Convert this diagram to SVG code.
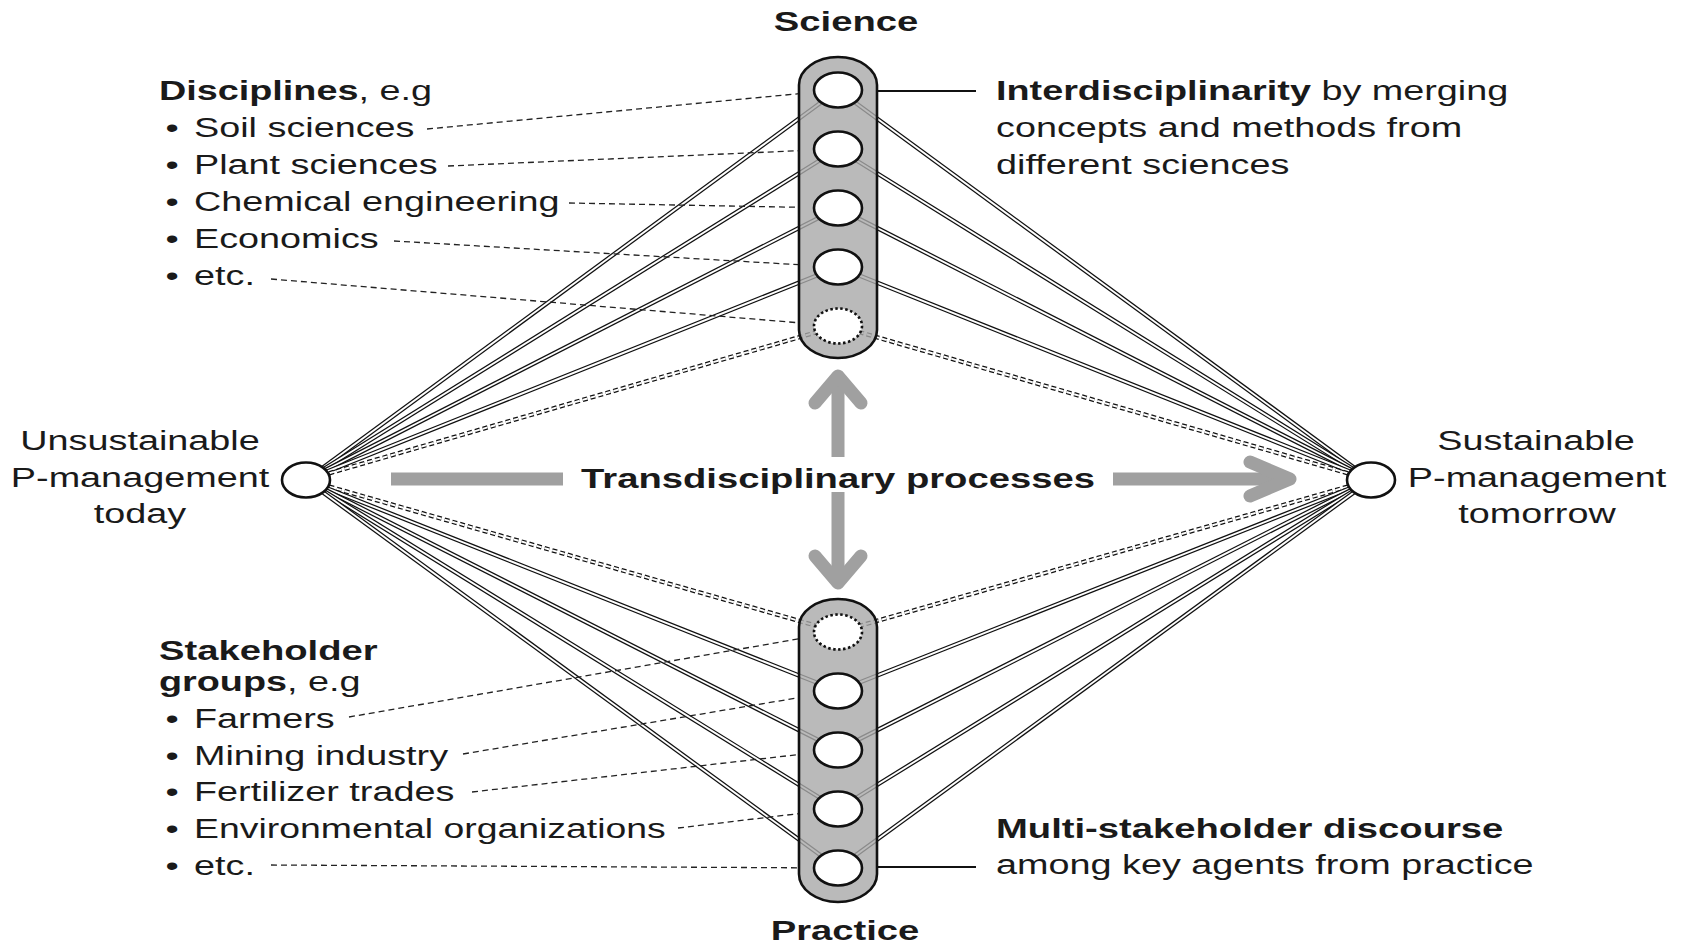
<svg xmlns="http://www.w3.org/2000/svg" width="1682" height="943" viewBox="0 0 1682 943">
<style>
text{font-family:"Liberation Sans",Arial,sans-serif;font-size:27px;fill:#1a1a1a}
.b{font-weight:bold}
.m{text-anchor:middle}
.dl{stroke:#111;stroke-width:4.4;fill:none}
.dw{stroke:#fff;stroke-width:1.9;fill:none}
.dd{stroke-dasharray:5 3}
.dash{stroke:#222;stroke-width:1.3;stroke-dasharray:6 4;fill:none}
.solid{stroke:#111;stroke-width:2.2;fill:none}
.node{fill:#fff;stroke:#111;stroke-width:2.6}
.dot{fill:#fff;stroke:#111;stroke-width:2.6;stroke-dasharray:2.5 2.5}
.pill{fill:#a9a9a9;fill-opacity:0.8;stroke:#111;stroke-width:2.6}
.arr{stroke:#a0a0a0;stroke-width:13;fill:none}
.head{stroke:#a0a0a0;stroke-width:13;fill:none;stroke-linecap:round;stroke-linejoin:round}
</style>
<defs>
<path id="a1" d="M306 480L838 90"/>
<path id="a2" d="M306 480L838 149"/>
<path id="a3" d="M306 480L838 208"/>
<path id="a4" d="M306 480L838 267"/>
<path id="a5" d="M306 480L838 326"/>
<path id="b1" d="M306 480L838 632"/>
<path id="b2" d="M306 480L838 691"/>
<path id="b3" d="M306 480L838 750"/>
<path id="b4" d="M306 480L838 809"/>
<path id="b5" d="M306 480L838 868"/>
<path id="c1" d="M1371 480L838 90"/>
<path id="c2" d="M1371 480L838 149"/>
<path id="c3" d="M1371 480L838 208"/>
<path id="c4" d="M1371 480L838 267"/>
<path id="c5" d="M1371 480L838 326"/>
<path id="d1" d="M1371 480L838 632"/>
<path id="d2" d="M1371 480L838 691"/>
<path id="d3" d="M1371 480L838 750"/>
<path id="d4" d="M1371 480L838 809"/>
<path id="d5" d="M1371 480L838 868"/>
</defs>

<g id="connectors">
<use href="#a1" class="dl"/><use href="#a1" class="dw"/>
<use href="#a2" class="dl"/><use href="#a2" class="dw"/>
<use href="#a3" class="dl"/><use href="#a3" class="dw"/>
<use href="#a4" class="dl"/><use href="#a4" class="dw"/>
<use href="#a5" class="dl dd"/><use href="#a5" class="dw dd"/>
<use href="#b1" class="dl dd"/><use href="#b1" class="dw dd"/>
<use href="#b2" class="dl"/><use href="#b2" class="dw"/>
<use href="#b3" class="dl"/><use href="#b3" class="dw"/>
<use href="#b4" class="dl"/><use href="#b4" class="dw"/>
<use href="#b5" class="dl"/><use href="#b5" class="dw"/>
<use href="#c1" class="dl"/><use href="#c1" class="dw"/>
<use href="#c2" class="dl"/><use href="#c2" class="dw"/>
<use href="#c3" class="dl"/><use href="#c3" class="dw"/>
<use href="#c4" class="dl"/><use href="#c4" class="dw"/>
<use href="#c5" class="dl dd"/><use href="#c5" class="dw dd"/>
<use href="#d1" class="dl dd"/><use href="#d1" class="dw dd"/>
<use href="#d2" class="dl"/><use href="#d2" class="dw"/>
<use href="#d3" class="dl"/><use href="#d3" class="dw"/>
<use href="#d4" class="dl"/><use href="#d4" class="dw"/>
<use href="#d5" class="dl"/><use href="#d5" class="dw"/>

<path class="dash" d="M427 129L799 93.7"/>
<path class="dash" d="M448 166L799 150.7"/>
<path class="dash" d="M569 203L799 207.3"/>
<path class="dash" d="M394 241L799 264.7"/>
<path class="dash" d="M271 279L799 322.8"/>
<path class="dash" d="M349 717L799 638.8"/>
<path class="dash" d="M463 754L799 697.6"/>
<path class="dash" d="M472 792L799 754.5"/>
<path class="dash" d="M678 828L799 813.6"/>
<path class="dash" d="M271 865L799 867.8"/>

<path class="solid" d="M877 91H976"/>
<path class="solid" d="M877 867H976"/>

<path class="arr" d="M391 479H563"/>
<path class="arr" d="M1113 479H1288"/>
<polyline class="head" points="1250,462 1290,479 1250,496"/>
<path class="arr" d="M838 457V380"/>
<polyline class="head" points="815,403 838,376 861,403"/>
<path class="arr" d="M838 492V580"/>
<polyline class="head" points="815,556 838,583 861,556"/>
</g>

<g id="science">
<rect class="pill" x="799" y="57" width="78" height="301" rx="39" ry="28"/>
<ellipse class="node" cx="838" cy="90" rx="24" ry="17.5"/>
<ellipse class="node" cx="838" cy="149" rx="24" ry="17.5"/>
<ellipse class="node" cx="838" cy="208" rx="24" ry="17.5"/>
<ellipse class="node" cx="838" cy="267" rx="24" ry="17.5"/>
<ellipse class="dot" cx="838" cy="326" rx="24" ry="17.5"/>
<text class="b m" transform="matrix(1.415 0 0 1 846 31)">Science</text>
</g>

<g id="practice">
<rect class="pill" x="799" y="599" width="78" height="303" rx="39" ry="28"/>
<ellipse class="dot" cx="838" cy="632" rx="24" ry="17.5"/>
<ellipse class="node" cx="838" cy="691" rx="24" ry="17.5"/>
<ellipse class="node" cx="838" cy="750" rx="24" ry="17.5"/>
<ellipse class="node" cx="838" cy="809" rx="24" ry="17.5"/>
<ellipse class="node" cx="838" cy="868" rx="24" ry="17.5"/>
<text class="b m" transform="matrix(1.415 0 0 1 845 940)">Practice</text>
</g>

<g id="today">
<ellipse class="node" cx="306" cy="480" rx="24" ry="17.5"/>
<text class="m" transform="matrix(1.40 0 0 1 140 450)">Unsustainable</text>
<text class="m" transform="matrix(1.40 0 0 1 140 487)">P-management</text>
<text class="m" transform="matrix(1.40 0 0 1 140 523)">today</text>
</g>

<g id="tomorrow">
<ellipse class="node" cx="1371" cy="480" rx="24" ry="17.5"/>
<text class="m" transform="matrix(1.40 0 0 1 1536 450)">Sustainable</text>
<text class="m" transform="matrix(1.40 0 0 1 1537 487)">P-management</text>
<text class="m" transform="matrix(1.40 0 0 1 1537 523)">tomorrow</text>
</g>

<g id="process">
<text class="b m" transform="matrix(1.415 0 0 1 838 488)">Transdisciplinary processes</text>
</g>

<g id="disciplines">
<text transform="matrix(1.40 0 0 1 159 100)"><tspan class="b">Disciplines</tspan>, e.g</text>
<text class="m" transform="matrix(1.40 0 0 1 172 137)">•</text>
<text transform="matrix(1.40 0 0 1 194 137)">Soil sciences</text>
<text class="m" transform="matrix(1.40 0 0 1 172 174)">•</text>
<text transform="matrix(1.40 0 0 1 194 174)">Plant sciences</text>
<text class="m" transform="matrix(1.40 0 0 1 172 211)">•</text>
<text transform="matrix(1.40 0 0 1 194 211)">Chemical engineering</text>
<text class="m" transform="matrix(1.40 0 0 1 172 248)">•</text>
<text transform="matrix(1.40 0 0 1 194 248)">Economics</text>
<text class="m" transform="matrix(1.40 0 0 1 172 284.5)">•</text>
<text transform="matrix(1.40 0 0 1 194 284.5)">etc.</text>
</g>

<g id="stakeholders">
<text class="b" transform="matrix(1.415 0 0 1 159 660)">Stakeholder</text>
<text transform="matrix(1.40 0 0 1 159 691)"><tspan class="b">groups</tspan>, e.g</text>
<text class="m" transform="matrix(1.40 0 0 1 172 728)">•</text>
<text transform="matrix(1.40 0 0 1 194 728)">Farmers</text>
<text class="m" transform="matrix(1.40 0 0 1 172 765)">•</text>
<text transform="matrix(1.40 0 0 1 194 765)">Mining industry</text>
<text class="m" transform="matrix(1.40 0 0 1 172 801)">•</text>
<text transform="matrix(1.40 0 0 1 194 801)">Fertilizer trades</text>
<text class="m" transform="matrix(1.40 0 0 1 172 838)">•</text>
<text transform="matrix(1.385 0 0 1 194 838)">Environmental organizations</text>
<text class="m" transform="matrix(1.40 0 0 1 172 875)">•</text>
<text transform="matrix(1.40 0 0 1 194 875)">etc.</text>
</g>

<g id="interdisciplinarity">
<text transform="matrix(1.40 0 0 1 996 100)"><tspan class="b">Interdisciplinarity</tspan> by merging</text>
<text transform="matrix(1.40 0 0 1 996 137)">concepts and methods from</text>
<text transform="matrix(1.40 0 0 1 996 174)">different sciences</text>
</g>

<g id="discourse">
<text class="b" transform="matrix(1.415 0 0 1 996 838)">Multi-stakeholder discourse</text>
<text transform="matrix(1.40 0 0 1 996 874)">among key agents from practice</text>
</g>
</svg>
